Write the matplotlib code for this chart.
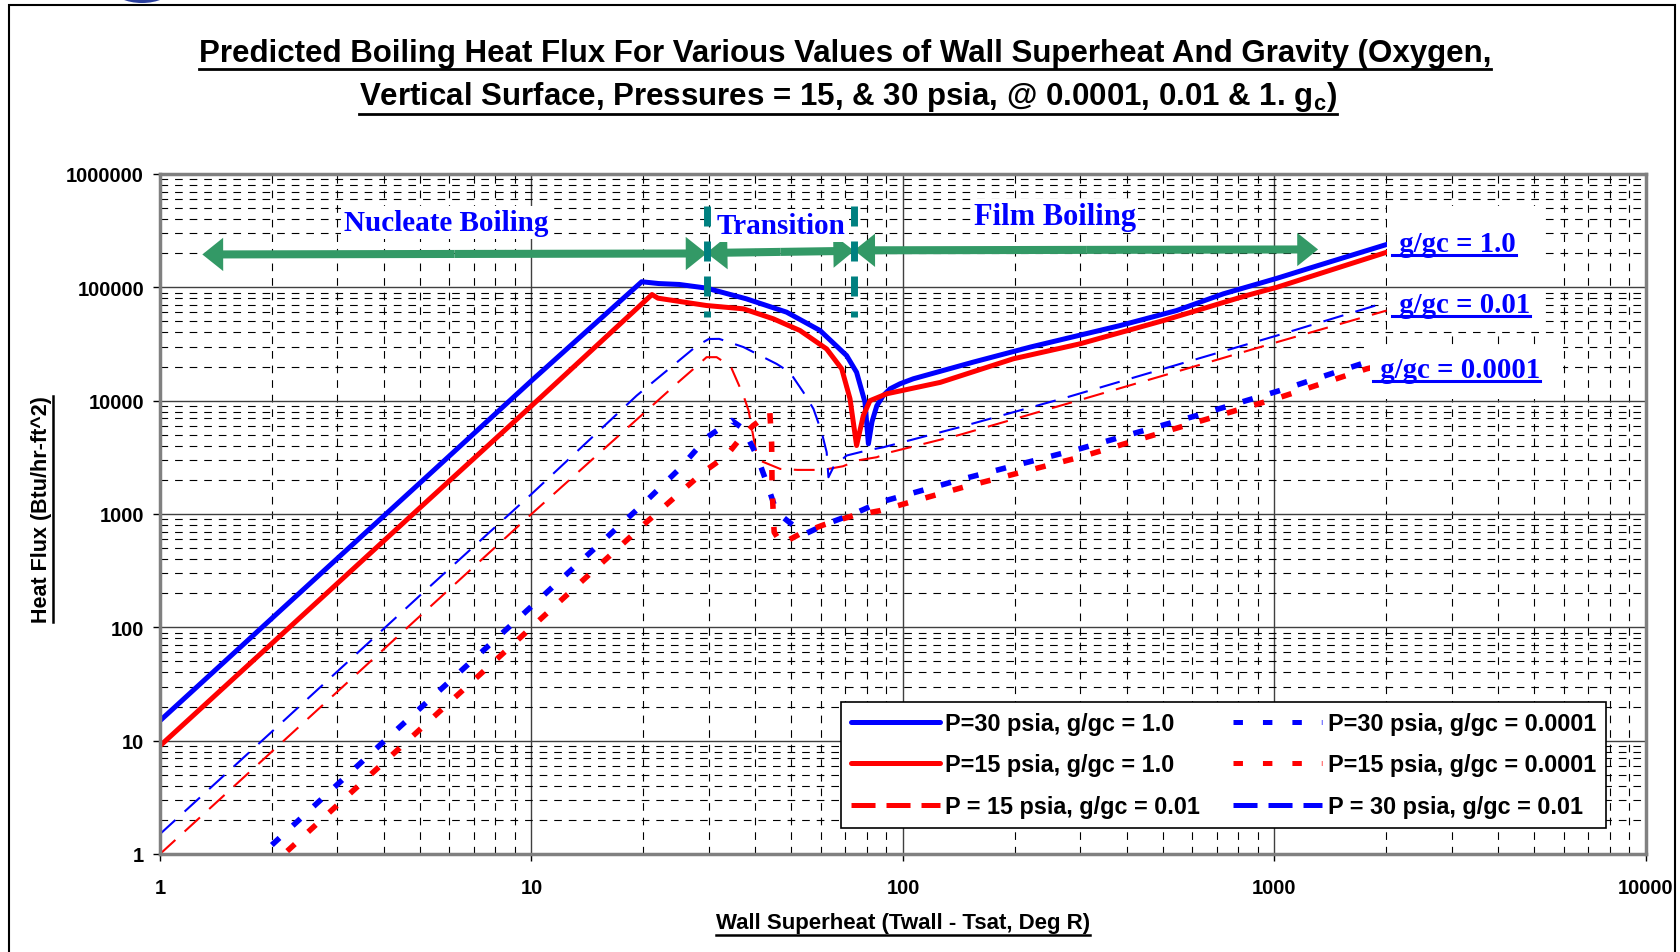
import numpy as np
import matplotlib
matplotlib.use('Agg')
import matplotlib.pyplot as plt
from matplotlib.patches import FancyArrowPatch, Rectangle, Ellipse, ArrowStyle
from matplotlib.lines import Line2D
from matplotlib.ticker import LogLocator, NullFormatter

plt.rcParams['font.family'] = ['Liberation Sans', 'DejaVu Sans']
plt.rcParams['mathtext.fontset'] = 'custom'
plt.rcParams['mathtext.rm'] = 'Liberation Sans'
plt.rcParams['mathtext.bf'] = 'Liberation Sans:bold'
plt.rcParams['lines.scale_dashes'] = False

# wall superheat (deg R) and heat flux (Btu/hr-ft^2)
x_30_g1 = [1, 2, 5, 10, 19.8, 22, 25, 29.6, 37.9, 48.6, 59.8, 70.5, 75, 79, 80.7,
           82.5, 85, 88.5, 92.2, 98.2, 106.6, 154.7, 220, 384, 545, 728, 1014, 1221, 2004]
q_30_g1 = [15, 120, 1870, 15000, 112000, 108000, 106000, 98400, 79100, 60400, 41600,
           25000, 17800, 9700, 4160, 6500, 9000, 11100, 12700, 14100, 15600, 21900,
           29700, 46000, 62400, 87600, 120000, 145000, 239000]

x_15_g1 = [1, 2, 5, 10, 21.1, 21.9, 29.6, 37.2, 44.8, 52.8, 62.3, 68.4, 72, 75, 78.2,
           81.5, 90.4, 126, 198, 299, 502, 841, 1014, 2004]
q_15_g1 = [9, 72, 1130, 9000, 86400, 80200, 69100, 64600, 52700, 41600, 28600, 19100,
           10400, 4020, 7390, 10000, 11500, 14500, 23400, 31700, 50900, 84700, 100000, 204000]

x_30_g001 = [1, 2, 5, 10, 19.2, 27.8, 30, 32, 37.2, 45.7, 49.6, 53.9, 57.4, 60.4, 62.3,
             63, 65, 70.5, 79.8, 88.5, 142, 276, 557, 1014, 2004]
q_30_g001 = [1.5, 12, 190, 1500, 11100, 30300, 35000, 35100, 29700, 21100, 17800, 11900,
             8470, 5270, 3510, 2110, 2600, 3280, 3630, 3880, 5830, 10700, 21100, 37500, 74000]

x_15_g001 = [1, 2, 5, 10, 25.1, 28, 29.6, 31.5, 33, 34.5, 37.2, 38.4, 39.8, 40.2, 41.2,
             46.7, 52, 61, 69, 75, 85, 92.2, 142, 276, 557, 1014, 2004]
q_15_g001 = [1, 8, 125, 1000, 15000, 20500, 24200, 24200, 21900, 19500, 11100, 8180, 4300,
             3600, 2960, 2500, 2450, 2450, 2640, 2960, 3170, 3500, 4990, 9380, 18400, 32800, 62400]

x_30_g1e4 = [2, 4, 10, 20, 25, 29.8, 34.6, 37.2, 40.4, 42.6, 45.7, 50.7, 54.5, 62.3, 73.5,
             86.7, 145, 299, 617, 1035, 1770, 2004]
q_30_g1e4 = [1.2, 9.8, 153, 1230, 2500, 4800, 6680, 5640, 3280, 2040, 1040, 790, 667, 818,
             1000, 1270, 2040, 3760, 7390, 12300, 21900, 24500]

x_15_g1e4 = [2.2, 4, 10, 20, 29, 33.5, 36.4, 39.5, 43, 43.8, 44.3, 44.4, 44.6, 45, 47.1,
             52.8, 61, 73.5, 86.7, 145, 299, 617, 1035, 1770, 2004]
q_15_g1e4 = [1.06, 6.4, 100, 800, 2340, 3280, 4600, 6030, 7390, 8000, 4200, 1970, 1270, 690,
             545, 667, 800, 968, 1070, 1720, 3170, 6460, 10700, 19100, 21000]

legend_labels = ['P=30 psia, g/gc = 1.0', 'P=15 psia, g/gc = 1.0', 'P = 15 psia, g/gc = 0.01',
                 'P=30 psia, g/gc = 0.0001', 'P=15 psia, g/gc = 0.0001', 'P = 30 psia, g/gc = 0.01']

x_ticks = [1, 10, 100, 1000, 10000]
x_ticklabels = ['1', '10', '100', '1000', '10000']
y_ticks = [1, 10, 100, 1000, 10000, 100000, 1000000]
y_ticklabels = ['1', '10', '100', '1000', '10000', '100000', '1000000']

# boiling regime boundaries and arrow ends (x, y)
regime_bounds = [29.6, 73.9]
nucleate_arrow = [(1.3, 195000), (29.6, 199000)]
transition_arrow = [(29.6, 201000), (73.9, 210000)]
film_arrow = [(73.9, 212000), (1310, 216000)]

BLUE = '#0000ff'
RED = '#ff0000'
GREEN = '#339966'
TEAL = '#008080'

fig = plt.figure(figsize=(16.81, 9.53), dpi=100)
ax = fig.add_axes([160 / 1681, 98 / 953, 1486 / 1681, 680 / 953])
ax.set_xscale('log')
ax.set_yscale('log')
ax.set_xlim(1, 10000)
ax.set_ylim(1, 1e6)

solid = dict(lw=3.6, solid_joinstyle='round')
thin = dict(lw=1.5, dashes=(15, 9))
dots = dict(lw=4, dashes=(7.5, 13))

ax.plot(x_30_g1, q_30_g1, color=BLUE, **solid)
ax.plot(x_15_g1, q_15_g1, color=RED, **solid)
ax.plot(x_15_g001, q_15_g001, color=RED, **thin)
ax.plot(x_30_g1e4, q_30_g1e4, color=BLUE, **dots)
ax.plot(x_15_g1e4, q_15_g1e4, color=RED, **dots)
ax.plot(x_30_g001, q_30_g001, color=BLUE, **thin)

# grid
ax.xaxis.set_minor_locator(LogLocator(base=10, subs=np.arange(2, 10), numticks=100))
ax.yaxis.set_minor_locator(LogLocator(base=10, subs=np.arange(2, 10), numticks=100))
ax.xaxis.set_minor_formatter(NullFormatter())
ax.yaxis.set_minor_formatter(NullFormatter())
ax.grid(which='major', color='#404040', lw=1.0, ls='-', zorder=0)
ax.grid(which='minor', color='black', lw=0.8, ls=(0, (5.5, 5)), zorder=0)
ax.set_axisbelow(True)

ax.set_xticks(x_ticks)
ax.set_xticklabels(x_ticklabels, fontsize=14.5, fontweight='bold')
ax.set_yticks(y_ticks)
ax.set_yticklabels(y_ticklabels, fontsize=14.5, fontweight='bold')
ax.tick_params(which='major', direction='out', length=5, width=1, pad=6.5)
ax.tick_params(axis='x', which='major', pad=12)
ax.tick_params(which='minor', length=0)
for s in ax.spines.values():
    s.set_color('#808080')
    s.set_linewidth(2.5)

# regime lines and arrows
for xb in regime_bounds:
    ax.plot([xb, xb], [527000, 54600], color=TEAL, lw=5, dashes=(14.4, 10.8), zorder=4)

style = ArrowStyle('Simple', head_length=15, head_width=24, tail_width=5.8)
for (xa, ya), (xb, yb) in [nucleate_arrow, transition_arrow, film_arrow]:
    xm, ym = np.sqrt(xa * xb), np.sqrt(ya * yb)
    for end in [(xa, ya), (xb, yb)]:
        ax.add_patch(FancyArrowPatch((xm, ym), end, arrowstyle=style, mutation_scale=1,
                                     color=GREEN, lw=0, shrinkA=0, shrinkB=0, zorder=3))

# white label boxes
for x0, y0, x1, y1 in [(0.8257, 0.835, 0.9287, 0.953), (0.8257, 0.769, 0.9287, 0.831),
                       (0.8143, 0.669, 0.944, 0.747)]:
    ax.add_patch(Rectangle((x0, y0), x1 - x0, y1 - y0, transform=ax.transAxes,
                           facecolor='white', edgecolor='none', zorder=5))

serif = dict(family=['Liberation Serif', 'DejaVu Serif'], fontweight='bold', color=BLUE)
box = dict(facecolor='white', edgecolor='none', pad=2)
ax.text(0.1925, 0.929, 'Nucleate Boiling', transform=ax.transAxes, ha='center', va='center',
        fontsize=21, bbox=box, zorder=6, **serif)
ax.text(0.418, 0.924, 'Transition', transform=ax.transAxes, ha='center', va='center',
        fontsize=21, bbox=box, zorder=6, **serif)
ax.text(0.602, 0.938, 'Film Boiling', transform=ax.transAxes, ha='center', va='center',
        fontsize=22, bbox=box, zorder=6, **serif)
g_labels = []
for xt, yt, s in [(0.829, 0.8985, ' g/gc = 1.0'), (0.829, 0.808, ' g/gc = 0.01'),
                  (0.816, 0.712, ' g/gc = 0.0001')]:
    g_labels.append(ax.text(xt, yt, s, transform=ax.transAxes, ha='left', va='center',
                            fontsize=20.8, zorder=6, **serif))

# legend with proxy handles (thicker than the plotted thin/dotted lines)
proxies = [Line2D([], [], color=BLUE, lw=3.6, solid_capstyle='round'),
           Line2D([], [], color=RED, lw=3.6, solid_capstyle='round'),
           Line2D([], [], color=RED, lw=3.6, dashes=(17.3, 7.9)),
           Line2D([], [], color=BLUE, lw=3.6, dashes=(6.8, 14.4)),
           Line2D([], [], color=RED, lw=3.6, dashes=(6.8, 14.4)),
           Line2D([], [], color=BLUE, lw=3.6, dashes=(17.3, 7.9))]
leg = ax.legend(proxies, legend_labels,
                ncol=2, loc='upper left', bbox_to_anchor=(0.4584, 0.2235), borderaxespad=0,
                prop={'weight': 'bold', 'size': 16.8}, frameon=True, fancybox=False,
                edgecolor='black', framealpha=1, handlelength=3.8, handletextpad=0.24,
                columnspacing=1.43, borderpad=0.42, labelspacing=0.8)
leg.get_frame().set_linewidth(1.2)
leg.set_zorder(7)

# titles and axis labels
t1 = fig.text(845 / 1681, 1 - 54 / 953,
              'Predicted Boiling Heat Flux For Various Values of Wall Superheat And Gravity (Oxygen,',
              ha='center', va='center', fontsize=22.5, fontweight='bold')
t2 = fig.text(848 / 1681, 1 - 97 / 953,
              r'Vertical Surface, Pressures = 15, & 30 psia, @ 0.0001, 0.01 & 1. $\mathbf{g_c}$)',
              ha='center', va='center', fontsize=22.5, fontweight='bold')
xl = fig.text(903 / 1681, 1 - 924 / 953, 'Wall Superheat (Twall - Tsat, Deg R)',
              ha='center', va='center', fontsize=16, fontweight='bold')
yl = fig.text(42 / 1681, 1 - 510 / 953, 'Heat Flux (Btu/hr-ft^2)', rotation=90,
              ha='center', va='center', fontsize=15.5, fontweight='bold')

# figure border and logo stub
fig.add_artist(Rectangle((9 / 1681, -0.01), 1666 / 1681, 1 - 6 / 953 + 0.01,
                         transform=fig.transFigure, fill=False, edgecolor='black', lw=1.5))
fig.add_artist(Ellipse((142 / 1681, 1 + 10 / 953), 58 / 1681, 28 / 953,
                       transform=fig.transFigure, facecolor='#2a3f9e', edgecolor='none'))

# underlines
fig.canvas.draw()
r = fig.canvas.get_renderer()
inv = fig.transFigure.inverted()


def underline_h(txt, dy, color='black', lw=2.0):
    bb = txt.get_window_extent(r)
    (x0, y0), (x1, _) = inv.transform([(bb.x0, bb.y0 + dy), (bb.x1, bb.y0 + dy)])
    fig.add_artist(Line2D([x0, x1], [y0, y0], transform=fig.transFigure, color=color, lw=lw,
                          zorder=8))


underline_h(t1, -1)
underline_h(t2, -1)
underline_h(xl, -1, lw=1.8)
for g in g_labels:
    underline_h(g, 2, color=BLUE, lw=2.2)
bb = yl.get_window_extent(r)
(xa, ya), (_, yb) = inv.transform([(bb.x1 + 1, bb.y0), (bb.x1 + 1, bb.y1)])
fig.add_artist(Line2D([xa, xa], [ya, yb], transform=fig.transFigure, color='black', lw=1.8))

fig.savefig('out.png', dpi=100)
